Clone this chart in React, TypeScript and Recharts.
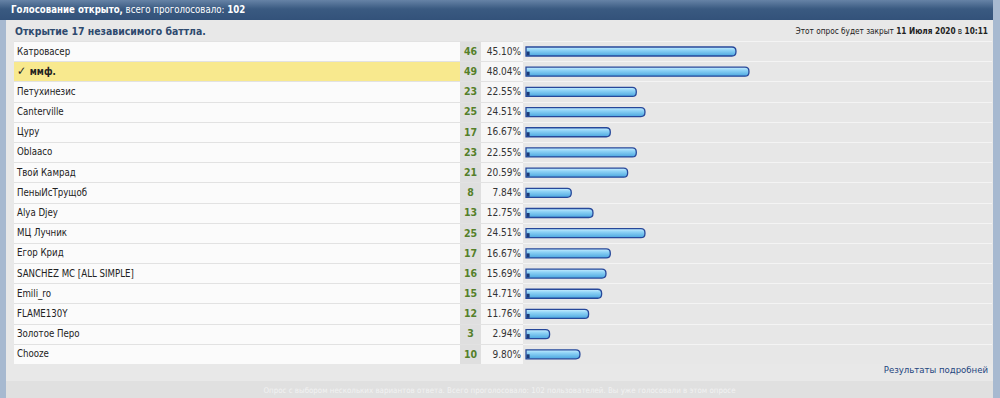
import React from 'react';
import { BarChart, Bar, XAxis, YAxis } from 'recharts';

const names = [
  'Катровасер', 'ммф.', 'Петухинезис', 'Canterville', 'Цуру', 'Oblaaco', 'Твой Камрад', 'ПеныИсТрущоб',
  'Alya Djey', 'МЦ Лучник', 'Егор Крид', 'SANCHEZ MC [ALL SIMPLE]', 'Emili_ro', 'FLAME130Y', 'Золотое Перо', 'Chooze',
];
const votes = [46, 49, 23, 25, 17, 23, 21, 8, 13, 25, 17, 16, 15, 12, 3, 10];
const percents = [45.1, 48.04, 22.55, 24.51, 16.67, 22.55, 20.59, 7.84, 12.75, 24.51, 16.67, 15.69, 14.71, 11.76, 2.94, 9.8];
const chosen = 1; // строка, за которую проголосовал пользователь

const data = names.map((name, i) => ({ name, votes: votes[i], pct: percents[i] }));

const FONT = "'DejaVu Sans Condensed', 'DejaVu Sans', sans-serif";
const TOP = 41;
const ROW_H = 323 / names.length;
const LEAD = 10.6; // левый "колпачок" полоски

const RowTick = (props: any) => {
  const { y, index } = props;
  const isChosen = index === chosen;
  return (
    <g fontFamily={FONT}>
      <text x={3} y={y} dy="0.36em" fontSize={9.6} fill="#222" fontWeight={isChosen ? 'bold' : 'normal'}>
        {isChosen ? <tspan fontSize={12}>✓ </tspan> : null}{names[index]}
      </text>
      <text x={456.5} y={y} dy="0.36em" fontSize={10.5} fill="#55802a" fontWeight="bold" textAnchor="middle">
        {votes[index]}
      </text>
      <text x={507} y={y} dy="0.36em" fontSize={10} fill="#333" textAnchor="end">
        {percents[index].toFixed(2)}%
      </text>
    </g>
  );
};

const PollBar = (props: any) => {
  const { x, y, width, height } = props;
  const l = x - LEAD;
  const r = x + width;
  const rad = 4;
  const d = `M${l},${y} L${r - rad},${y} Q${r},${y} ${r},${y + rad} L${r},${y + height - rad} Q${r},${y + height} ${r - rad},${y + height} L${l},${y + height} Z`;
  return (
    <g>
      <path d={d} fill="url(#pollBarFill)" stroke="#27489a" strokeWidth={1.3} />
      <rect x={l + 0.6} y={y + height / 2} width={3} height={height / 2 - 0.6} fill="#1c3a78" />
    </g>
  );
};

const cell = (left: number, width: number, bg: string, line: string, top: number) => (
  <div style={{ position: 'absolute', left, top, width, height: ROW_H, background: bg, borderTop: `1px solid ${line}`, boxSizing: 'border-box' }} />
);

export default function App() {
  return (
    <div style={{ position: 'absolute', left: 0, top: 0, width: 1000, height: 398, overflow: 'hidden', background: '#e8e8e8', fontFamily: FONT }}>
      <div style={{ position: 'absolute', left: 0, top: 0, width: 6, height: 398, background: '#a7b9d0' }} />
      <div style={{ position: 'absolute', right: 0, top: 0, width: 7, height: 398, background: '#a7b9d0' }} />
      <div style={{ position: 'absolute', left: 0, top: 0, width: 993, height: 20, background: 'linear-gradient(#6683a6, #3a5a81 45%, #33527a)' }} />
      <div style={{ position: 'absolute', left: 11, top: 4, fontSize: 9.6, color: '#fff', whiteSpace: 'nowrap' }}>
        <b>Голосование открыто,</b> всего проголосовало: <b>102</b>
      </div>
      <div style={{ position: 'absolute', left: 15, top: 25, fontSize: 10.4, fontWeight: 'bold', color: '#2e4a6e', whiteSpace: 'nowrap' }}>
        Открытие 17 независимого баттла.
      </div>
      <div style={{ position: 'absolute', right: 12, top: 26, fontSize: 8.2, color: '#222', whiteSpace: 'nowrap' }}>
        Этот опрос будет закрыт <b>11 Июля 2020</b> в <b>10:11</b>
      </div>

      {names.map((n, i) => {
        const top = TOP + i * ROW_H;
        return (
          <React.Fragment key={n}>
            {cell(14, 446, i === chosen ? '#f8e98e' : '#fbfbfb', '#e2e2e2', top)}
            {cell(460, 21, '#dfdfdf', '#e2e2e2', top)}
            {cell(481, 42, '#f7f7f7', '#e2e2e2', top)}
            {cell(523, 469, '#e7e7e7', '#f4f4f4', top)}
          </React.Fragment>
        );
      })}

      <div style={{ position: 'absolute', left: 14, top: TOP }}>
        <BarChart width={978} height={323} data={data} layout="vertical" margin={{ top: 0, right: 13.4, left: 0, bottom: 0 }} barCategoryGap={0}>
          <defs>
            <linearGradient id="pollBarFill" x1="0" y1="0" x2="0" y2="1">
              <stop offset="0%" stopColor="#c8eeff" />
              <stop offset="35%" stopColor="#8fd3f6" />
              <stop offset="100%" stopColor="#4aa6df" />
            </linearGradient>
          </defs>
          <YAxis type="category" dataKey="name" width={522.6} axisLine={false} tickLine={false} tick={<RowTick />} interval={0} />
          <XAxis type="number" domain={[0, 100]} hide />
          <Bar dataKey="pct" barSize={9} shape={<PollBar />} isAnimationActive={false} />
        </BarChart>
      </div>

      <div style={{ position: 'absolute', right: 12, top: 364, fontSize: 9.5, color: '#24467f', whiteSpace: 'nowrap' }}>
        Результаты подробней
      </div>
      <div style={{ position: 'absolute', left: 6, top: 381, width: 987, height: 17, background: '#e0e0e0' }} />
      <div style={{ position: 'absolute', left: 6, top: 386, width: 987, textAlign: 'center', fontSize: 7.9, color: '#f2f2f2', whiteSpace: 'nowrap' }}>
        Опрос с выбором нескольких вариантов ответа. Всего проголосовало: 102 пользователей. Вы уже голосовали в этом опросе
      </div>
    </div>
  );
}
